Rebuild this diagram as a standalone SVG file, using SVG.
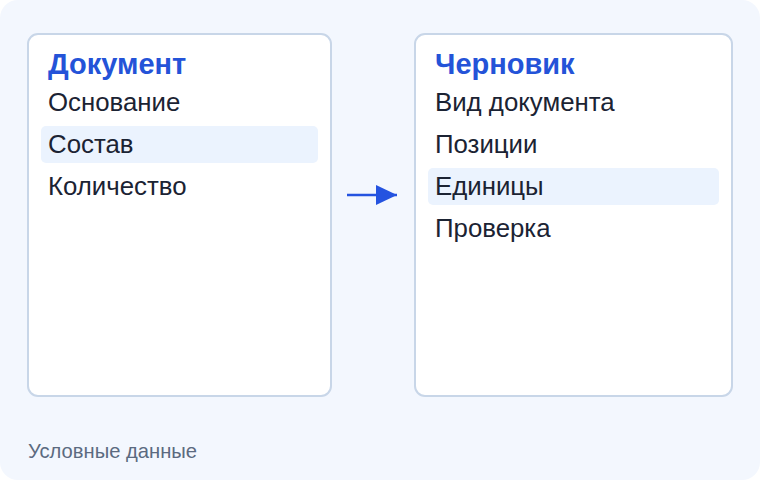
<svg xmlns="http://www.w3.org/2000/svg" width="760" height="480" viewBox="0 0 760 480">
<style>
.card{fill:#ffffff;stroke:#c8d6e8;stroke-width:2}
.title{font-family:"Liberation Sans",Arial,sans-serif;font-weight:bold;font-size:29px;fill:#2453d8}
.item{font-family:"Liberation Sans",Arial,sans-serif;font-size:25.8px;fill:#1b2333}
.hl{fill:#ebf3fe}
.foot{font-family:"Liberation Sans",Arial,sans-serif;font-size:20.2px;fill:#5b6a80}
</style>
<defs>
<marker id="ah" viewBox="0 0 21 20" refX="21" refY="10" markerWidth="21" markerHeight="20" markerUnits="userSpaceOnUse" orient="auto">
<path d="M0,0 L21,10 L0,20 z" fill="#2453e0"/>
</marker>
</defs>
<rect x="0" y="0" width="760" height="480" rx="18" fill="#f3f7fe"/>
<g id="node-document">
<rect class="card" x="28" y="34" width="303" height="362" rx="10"/>
<text class="title" x="48" y="74">Документ</text>
<text class="item" x="48" y="111">Основание</text>
<rect class="hl" x="41" y="126" width="277" height="37" rx="5"/>
<text class="item" x="48" y="153">Состав</text>
<text class="item" x="48" y="195">Количество</text>
</g>
<g id="node-draft">
<rect class="card" x="415" y="34" width="317" height="362" rx="10"/>
<text class="title" x="435" y="74">Черновик</text>
<text class="item" x="435" y="111">Вид документа</text>
<text class="item" x="435" y="153">Позиции</text>
<rect class="hl" x="428" y="168" width="291" height="37" rx="5"/>
<text class="item" x="435" y="195">Единицы</text>
<text class="item" x="435" y="237">Проверка</text>
</g>
<g id="connectors">
<line x1="347" y1="195" x2="397" y2="195" stroke="#2453e0" stroke-width="2.5" marker-end="url(#ah)"/>
</g>
<text class="foot" x="28" y="458">Условные данные</text>
</svg>
